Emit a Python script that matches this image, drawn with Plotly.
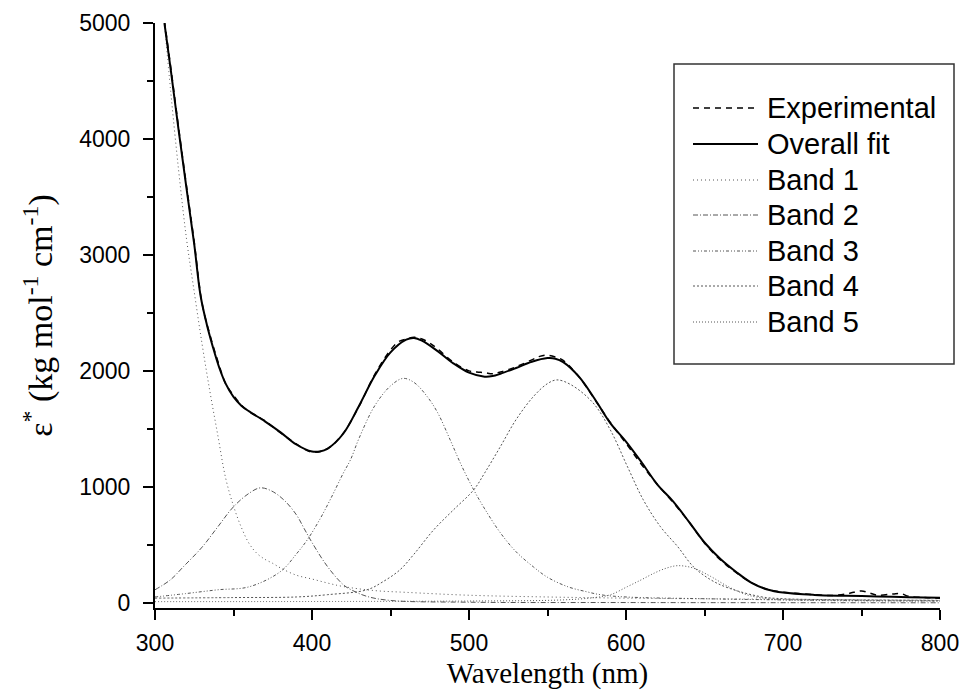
import plotly.graph_objects as go

# ---------------- data ----------------
series_names = ["Experimental", "Overall fit", "Band 1", "Band 2", "Band 3", "Band 4", "Band 5"]

exp_wl = [306, 310, 315, 320, 325, 330, 335, 340, 345, 350, 355, 360, 365, 370, 380, 390,
          400, 410, 420, 430, 440, 450, 455, 460, 465, 470, 475, 480, 490, 500, 505, 510,
          515, 520, 530, 540, 545, 550, 555, 560, 570, 580, 590, 600, 610, 620, 630, 640,
          650, 660, 670, 680, 690, 700, 710, 720, 730, 740, 745, 750, 755, 760, 770, 775,
          780, 790, 800]
exp_val = [5020, 4620, 4100, 3600, 3110, 2580, 2310, 2085, 1890, 1790, 1705, 1648, 1610, 1570,
           1465, 1370, 1300, 1330, 1465, 1695, 1970, 2180, 2250, 2275, 2290, 2275, 2240, 2190,
           2075, 2000, 1990, 1985, 1975, 1990, 2035, 2095, 2125, 2135, 2120, 2090, 1950, 1755,
           1555, 1375, 1190, 1020, 865, 700, 515, 372, 262, 172, 117, 92, 80, 70, 62, 75, 90,
           102, 85, 66, 76, 80, 56, 46, 40]

fit_wl = [306, 310, 315, 320, 325, 329, 333, 337, 341, 345, 350, 355, 360, 370, 380, 390,
          400, 405, 410, 420, 430, 440, 450, 460, 465, 470, 480, 490, 500, 510, 515, 520,
          530, 540, 550, 555, 560, 570, 580, 590, 600, 610, 620, 630, 640, 650, 660, 670,
          680, 690, 700, 720, 740, 760, 780, 800]
fit_val = [5000, 4600, 4080, 3580, 3090, 2650, 2400, 2200, 2025, 1890, 1775, 1700, 1650, 1565,
           1470, 1365, 1305, 1305, 1330, 1460, 1700, 1960, 2160, 2270, 2284, 2260, 2170, 2065,
           1985, 1950, 1955, 1975, 2025, 2078, 2110, 2105, 2075, 1950, 1760, 1550, 1390, 1210,
           1020, 875, 700, 520, 380, 268, 172, 115, 88, 68, 60, 55, 48, 43]

b1_wl = [306, 310, 315, 320, 325, 330, 335, 340, 345, 350, 355, 360, 365, 370, 375, 380,
         390, 400, 410, 420, 440, 460, 500, 550, 600, 700, 800]
b1_val = [5000, 4410, 3735, 3145, 2680, 2230, 1820, 1445, 1075, 835, 650, 510, 425, 375, 340,
          300, 238, 205, 170, 140, 105, 90, 65, 50, 40, 30, 22]

b2_wl = [300, 310, 318, 330, 340, 350, 360, 367, 374, 382, 390, 395, 400, 410, 420, 425,
         435, 450, 500, 600, 800]
b2_val = [112, 200, 310, 480, 655, 828, 945, 991, 966, 888, 760, 640, 520, 310, 155, 112,
          55, 20, 5, 2, 0]

b3_wl = [300, 320, 340, 360, 380, 390, 397, 405, 412, 420, 424.5, 430, 440, 450, 458, 465,
         473.5, 480, 488, 495, 503, 510, 520, 530, 541, 550, 563, 575, 584, 600, 650, 700, 800]
b3_val = [50, 80, 112, 138, 270, 420, 543, 720, 900, 1120, 1233, 1420, 1700, 1870, 1935, 1900,
          1776, 1640, 1405, 1190, 974, 810, 603, 440, 310, 220, 138, 95, 69, 50, 35, 25, 15]

b4_wl = [300, 350, 390, 410, 435, 445, 456, 465, 477.5, 490, 503, 510, 520, 530, 541, 550,
         556, 565, 579, 590, 601, 611, 622, 633, 643, 654, 665, 686, 700, 750, 800]
b4_val = [40, 45, 50, 70, 112, 180, 284, 420, 629, 800, 974, 1120, 1347, 1580, 1778, 1890,
          1922, 1880, 1724, 1491, 1172, 888, 655, 483, 310, 198, 129, 52, 35, 25, 20]

b5_wl = [300, 500, 560, 580, 590, 601, 610, 618, 626, 633, 643, 654, 665, 677, 690, 700, 800]
b5_val = [10, 15, 25, 45, 69, 140, 200, 256, 300, 320, 299, 227, 140, 69, 35, 25, 15]

x_ticks = [300, 400, 500, 600, 700, 800]
y_ticks = [0, 1000, 2000, 3000, 4000, 5000]

# ---------------- styles ----------------
band_col = "#555555"
styles = [
    dict(color="black", width=1.5, dash="6px,5px"),
    dict(color="black", width=2, dash="solid"),
    dict(color=band_col, width=1, dash="1px,3px"),
    dict(color=band_col, width=1, dash="5px,2px,1px,2px"),
    dict(color=band_col, width=1, dash="3px,2px,1px,2px,1px,2px"),
    dict(color=band_col, width=1, dash="2px,2px"),
    dict(color=band_col, width=1, dash="1px,2px"),
]
data = [(exp_wl, exp_val), (fit_wl, fit_val), (b1_wl, b1_val), (b2_wl, b2_val),
        (b3_wl, b3_val), (b4_wl, b4_val), (b5_wl, b5_val)]

fig = go.Figure()
order = [2, 3, 4, 5, 6, 1, 0]
for i in order:
    xs, ys = data[i]
    fig.add_trace(go.Scatter(
        x=xs, y=ys, mode="lines", name=series_names[i],
        line=dict(color=styles[i]["color"], width=styles[i]["width"],
                  dash=styles[i]["dash"], shape="spline", smoothing=1.0),
        showlegend=False,
    ))

# ---------------- layout geometry (body margin removed in the page) ----------------
FW, FH = 964, 700
L, R, T, B = 155, 24, 23, 92
W, H = FW - L - R, FH - T - B


def px_x(p):  # screen pixel -> paper x
    return (p - L) / W


def px_y(p):  # screen pixel -> paper y
    return (FH - B - p) / H


shapes = [dict(type="rect", xref="paper", yref="paper",
               x0=px_x(674), x1=px_x(954), y0=px_y(364), y1=px_y(64),
               line=dict(color="#333333", width=1.5), fillcolor="white", layer="above")]
row_y = [108, 144, 180, 215, 251, 286, 322]
annotations = []
for i, yy in enumerate(row_y):
    shapes.append(dict(type="line", xref="paper", yref="paper",
                       x0=px_x(693), x1=px_x(758), y0=px_y(yy), y1=px_y(yy),
                       line=dict(color=styles[i]["color"], width=styles[i]["width"],
                                 dash=styles[i]["dash"]), layer="above"))
    annotations.append(dict(xref="paper", yref="paper", x=px_x(765), y=px_y(yy),
                            text=series_names[i], showarrow=False, xanchor="left",
                            yanchor="middle",
                            font=dict(family="Liberation Sans, Arial", size=29, color="black")))

fig.update_layout(
    width=FW, height=FH,
    margin=dict(l=L, r=R, t=T, b=B, autoexpand=False),
    paper_bgcolor="white", plot_bgcolor="white",
    shapes=shapes, annotations=annotations,
    showlegend=False,
    xaxis=dict(
        range=[300, 800], tickvals=x_ticks, ticktext=[str(v) for v in x_ticks],
        automargin=False,
        showgrid=False, zeroline=False, showline=True, linecolor="black", linewidth=2,
        ticks="outside", ticklen=10, tickwidth=1.5, tickcolor="black",
        minor=dict(ticks="outside", ticklen=6, dtick=50, tickwidth=1.5, tickcolor="black"),
        tickfont=dict(family="Liberation Sans, Arial", size=23, color="black"),
        ticklabelstandoff=3,
        title=dict(text="Wavelength (nm)", standoff=8,
                   font=dict(family="Liberation Serif, Times New Roman", size=29, color="black")),
    ),
    yaxis=dict(
        range=[-45, 5000], tickvals=y_ticks, ticktext=[str(v) for v in y_ticks],
        automargin=False,
        showgrid=False, zeroline=False, showline=True, linecolor="black", linewidth=2,
        ticks="outside", ticklen=10, tickwidth=1.5, tickcolor="black",
        minor=dict(ticks="outside", ticklen=6, dtick=500, tickwidth=1.5, tickcolor="black"),
        tickfont=dict(family="Liberation Sans, Arial", size=23, color="black"),
        ticklabelstandoff=8,
        title=dict(text="ε<sup>*</sup> (kg mol<sup>-1</sup> cm<sup>-1</sup>)", standoff=16,
                   font=dict(family="Liberation Serif, Times New Roman", size=34, color="black")),
    ),
)

fig.write_html("out.html", config={"displayModeBar": False},
               post_script="document.body.style.margin='0';document.body.style.overflow='hidden';")
